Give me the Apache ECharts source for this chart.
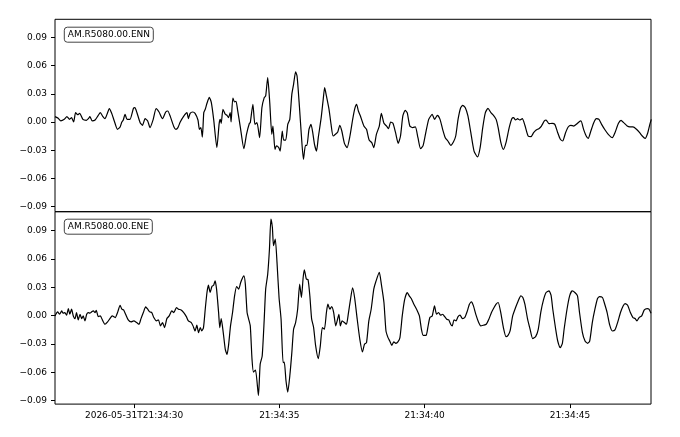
<!DOCTYPE html>
<html><head><meta charset="utf-8">
<script src="https://cdn.jsdelivr.net/npm/echarts@6/dist/echarts.min.js"></script>
<style>html,body{margin:0;padding:0;background:#fff}#c{width:680px;height:437px}</style>
</head><body><div id="c"></div>
<script>
// Trace ids and axis ticks
const TRACE_IDS = ['AM.R5080.00.ENN', 'AM.R5080.00.ENE'];
const DATE_PREFIX = '2026-05-31T';
const TIME_PREFIX = '21:34:';
const X_TICKS = [30, 35, 40, 45];              // seconds after 21:34:00
const Y_TICKS = [-0.09, -0.06, -0.03, 0, 0.03, 0.06, 0.09];
const T_START = 27.28, T_END = 47.79;

// [seconds after 21:34:00, amplitude]
const ENN = [
[27.28,0.0057],[27.39,0.0039],[27.48,0.0011],[27.60,0.0028],[27.69,0.0057],[27.78,0.0028],[27.85,0.0046],[27.92,0.0000],[27.99,0.0099],[28.06,0.0078],[28.13,0.0092],[28.24,0.0028],[28.36,0.0018],[28.43,0.0035],[28.48,0.0057],[28.56,0.0011],[28.66,0.0021],[28.77,0.0071],[28.84,0.0099],[28.93,0.0057],[29.00,0.0035],[29.07,0.0082],[29.15,0.0142],[29.23,0.0092],[29.32,0.0011],[29.43,-0.0078],[29.52,-0.0053],[29.58,0.0000],[29.63,0.0021],[29.69,0.0082],[29.76,0.0028],[29.86,0.0028],[29.98,0.0145],[30.03,0.0152],[30.10,0.0099],[30.21,-0.0007],[30.29,-0.0035],[30.38,0.0035],[30.47,0.0011],[30.55,-0.0060],[30.66,0.0028],[30.76,0.0142],[30.86,0.0106],[30.98,0.0035],[31.09,0.0106],[31.16,0.0117],[31.25,0.0057],[31.37,-0.0050],[31.44,-0.0078],[31.51,-0.0060],[31.59,0.0000],[31.70,0.0057],[31.82,0.0099],[31.87,0.0035],[31.93,0.0092],[32.02,0.0106],[32.10,0.0092],[32.20,0.0021],[32.25,-0.0078],[32.30,-0.0060],[32.35,-0.0160],[32.40,0.0099],[32.45,0.0135],[32.51,0.0199],[32.59,0.0262],[32.66,0.0206],[32.74,0.0028],[32.85,-0.0273],[32.93,-0.0014],[32.97,0.0028],[33.00,-0.0014],[33.06,0.0135],[33.14,0.0082],[33.20,0.0071],[33.25,0.0046],[33.31,0.0099],[33.34,0.0000],[33.40,0.0255],[33.46,0.0213],[33.51,0.0220],[33.56,0.0135],[33.66,-0.0060],[33.78,-0.0284],[33.87,-0.0131],[33.97,-0.0014],
[34.00,-0.0007],[34.09,0.0188],[34.16,-0.0025],[34.23,-0.0007],[34.32,-0.0167],[34.40,0.0152],[34.48,0.0259],[34.53,0.0277],[34.60,0.0472],[34.67,0.0206],[34.74,-0.0131],[34.78,-0.0043],[34.85,-0.0291],[34.90,-0.0255],[34.98,-0.0273],[35.03,-0.0309],[35.10,-0.0096],[35.15,-0.0192],[35.22,-0.0192],[35.29,-0.0025],[35.36,0.0028],[35.43,0.0294],[35.49,0.0401],[35.56,0.0532],[35.61,0.0489],[35.69,0.0170],[35.76,-0.0149],[35.83,-0.0397],[35.90,-0.0248],[35.95,-0.0248],[36.02,-0.0078],[36.09,-0.0025],[36.15,-0.0114],[36.21,-0.0237],[36.28,-0.0309],[36.34,-0.0167],[36.44,0.0046],[36.51,0.0241],[36.56,0.0365],[36.62,0.0277],[36.71,0.0135],[36.78,-0.0025],[36.85,-0.0149],[36.93,-0.0131],[37.01,-0.0106],[37.08,-0.0035],[37.15,-0.0096],[37.24,-0.0227],[37.33,-0.0273],[37.43,-0.0149],[37.52,0.0021],[37.59,0.0135],[37.66,0.0188],[37.72,0.0117],[37.79,0.0064],[37.91,-0.0043],[38.00,-0.0078],[38.09,-0.0192],[38.18,-0.0220],[38.25,-0.0273],[38.34,-0.0131],[38.44,-0.0043],[38.51,0.0092],[38.60,-0.0014],[38.69,-0.0043],[38.76,-0.0071],[38.83,0.0000],[38.91,-0.0014],[39.00,-0.0114],[39.09,-0.0227],[39.17,-0.0149],[39.25,0.0064],[39.33,0.0124],[39.40,0.0099],[39.49,-0.0043],[39.59,-0.0060],[39.68,-0.0053],[39.77,-0.0167],[39.86,-0.0284],[39.95,-0.0248],[40.05,-0.0096],[40.14,0.0028],[40.21,0.0064],[40.26,0.0082],[40.34,0.0028],[40.44,0.0071],[40.53,0.0028],[40.62,-0.0078],[40.71,-0.0167],[40.80,-0.0202],
[40.90,-0.0248],[40.99,-0.0213],[41.07,-0.0149],[41.15,0.0028],[41.24,0.0152],[41.31,0.0177],[41.40,0.0152],[41.49,0.0064],[41.59,-0.0114],[41.70,-0.0309],[41.82,-0.0372],[41.91,-0.0273],[42.00,-0.0060],[42.09,0.0099],[42.18,0.0145],[42.28,0.0099],[42.37,0.0071],[42.46,0.0028],[42.53,-0.0060],[42.62,-0.0213],[42.71,-0.0291],[42.80,-0.0220],[42.91,-0.0060],[43.00,0.0035],[43.06,0.0046],[43.13,0.0021],[43.20,0.0035],[43.27,0.0021],[43.36,0.0035],[43.45,-0.0035],[43.56,-0.0149],[43.66,-0.0156],[43.75,-0.0114],[43.84,-0.0085],[43.93,-0.0071],[44.02,-0.0043],[44.12,0.0011],[44.18,0.0021],[44.28,-0.0018],[44.39,-0.0014],[44.48,-0.0025],[44.58,-0.0114],[44.67,-0.0184],[44.75,-0.0202],[44.85,-0.0114],[44.94,-0.0053],[45.03,-0.0035],[45.13,-0.0043],[45.22,-0.0025],[45.31,0.0000],[45.38,0.0011],[45.47,-0.0078],[45.56,-0.0149],[45.63,-0.0174],[45.72,-0.0096],[45.82,-0.0007],[45.91,0.0035],[46.00,0.0028],[46.09,-0.0025],[46.21,-0.0085],[46.32,-0.0131],[46.46,-0.0167],[46.55,-0.0114],[46.67,-0.0014],[46.76,0.0018],[46.85,-0.0007],[46.97,-0.0043],[47.06,-0.0053],[47.17,-0.0053],[47.29,-0.0078],[47.40,-0.0114],[47.49,-0.0149],[47.59,-0.0174],[47.68,-0.0114],[47.75,-0.0025],[47.80,0.0028]
];

const ENE = [
[27.28,-0.0004],[27.37,0.0039],[27.44,0.0014],[27.51,0.0049],[27.56,0.0025],[27.62,0.0032],[27.68,0.0004],[27.74,0.0074],[27.79,0.0014],[27.85,0.0067],[27.91,-0.0004],[27.97,-0.0032],[28.02,0.0032],[28.08,-0.0046],[28.14,0.0014],[28.20,-0.0032],[28.25,-0.0004],[28.31,-0.0056],[28.37,0.0014],[28.43,0.0032],[28.48,0.0025],[28.54,0.0039],[28.60,0.0049],[28.66,0.0032],[28.70,0.0056],[28.77,-0.0011],[28.84,-0.0004],[28.91,-0.0046],[29.00,-0.0092],[29.09,-0.0067],[29.17,-0.0032],[29.25,-0.0004],[29.35,-0.0021],[29.44,0.0039],[29.52,0.0109],[29.58,0.0067],[29.64,0.0060],[29.71,0.0014],[29.80,-0.0046],[29.90,-0.0067],[29.99,-0.0056],[30.09,-0.0074],[30.17,-0.0092],[30.24,-0.0032],[30.32,0.0032],[30.40,0.0092],[30.47,0.0067],[30.54,0.0039],[30.61,0.0032],[30.68,-0.0021],[30.77,-0.0056],[30.84,-0.0046],[30.91,-0.0109],[30.98,-0.0074],[31.05,-0.0127],[31.13,-0.0032],[31.21,-0.0004],[31.30,0.0049],[31.37,0.0032],[31.46,0.0085],[31.53,0.0067],[31.62,0.0060],[31.71,0.0032],[31.80,-0.0011],[31.87,-0.0056],[31.97,-0.0074],[32.03,-0.0109],[32.10,-0.0163],[32.16,-0.0102],[32.22,-0.0180],[32.28,-0.0127],[32.33,-0.0163],[32.39,-0.0127],[32.45,0.0067],[32.51,0.0244],[32.56,0.0321],[32.62,0.0244],[32.68,0.0307],[32.74,0.0321],[32.79,0.0367],[32.84,0.0279],[32.91,0.0032],[32.95,-0.0127],[33.00,-0.0032],[33.07,-0.0180],[33.14,-0.0357],[33.20,-0.0410],[33.25,-0.0321],[33.32,-0.0109],[33.39,0.0032],[33.46,0.0209],[33.53,0.0307],[33.60,0.0279],[33.67,0.0350],[33.74,0.0403],[33.78,0.0421],[33.83,0.0332],[33.89,0.0032],[33.94,-0.0032],[34.00,-0.0109],
[34.06,-0.0463],[34.11,-0.0597],[34.18,-0.0576],[34.28,-0.0845],[34.34,-0.0516],[34.41,-0.0427],[34.48,-0.0039],[34.53,0.0279],[34.60,0.0438],[34.66,0.0703],[34.71,0.1021],[34.76,0.0933],[34.80,0.0739],[34.86,0.0809],[34.92,0.0562],[34.99,0.0191],[35.06,-0.0039],[35.13,-0.0498],[35.17,-0.0491],[35.23,-0.0692],[35.29,-0.0809],[35.36,-0.0639],[35.43,-0.0392],[35.49,-0.0145],[35.56,-0.0074],[35.63,0.0067],[35.70,0.0332],[35.76,0.0191],[35.82,0.0403],[35.86,0.0484],[35.93,0.0385],[35.99,0.0378],[36.05,0.0209],[36.11,-0.0032],[36.18,-0.0127],[36.25,-0.0321],[36.34,-0.0456],[36.41,-0.0321],[36.48,-0.0127],[36.55,-0.0145],[36.62,0.0032],[36.67,0.0120],[36.74,0.0067],[36.80,0.0095],[36.87,0.0032],[36.94,-0.0109],[36.99,-0.0056],[37.05,0.0014],[37.10,-0.0109],[37.16,-0.0056],[37.24,-0.0074],[37.31,-0.0092],[37.38,0.0032],[37.45,0.0173],[37.52,0.0294],[37.59,0.0191],[37.68,-0.0039],[37.77,-0.0251],[37.86,-0.0385],[37.93,-0.0304],[38.00,-0.0286],[38.08,-0.0056],[38.16,0.0067],[38.25,0.0279],[38.32,0.0357],[38.44,0.0456],[38.51,0.0332],[38.60,0.0138],[38.67,-0.0163],[38.74,-0.0233],[38.80,-0.0269],[38.87,-0.0315],[38.94,-0.0279],[39.01,-0.0293],[39.08,-0.0279],[39.15,-0.0233],[39.23,-0.0004],[39.31,0.0166],[39.40,0.0244],[39.47,0.0209],[39.54,0.0180],[39.63,0.0120],[39.75,0.0049],[39.82,-0.0004],[39.89,-0.0145],[39.95,-0.0209],[40.05,-0.0209],[40.11,-0.0127],[40.18,-0.0021],[40.26,-0.0004],[40.34,0.0102],[40.41,0.0014],[40.48,0.0032],[40.55,0.0004],[40.62,0.0014],[40.69,-0.0011],[40.76,-0.0039],[40.83,-0.0046],
[40.90,-0.0095],[40.95,-0.0109],[41.01,-0.0046],[41.08,-0.0056],[41.15,-0.0011],[41.22,0.0004],[41.30,-0.0032],[41.38,-0.0021],[41.47,0.0049],[41.54,0.0120],[41.61,0.0145],[41.68,0.0102],[41.77,0.0004],[41.86,-0.0074],[41.93,-0.0109],[42.02,-0.0102],[42.12,-0.0092],[42.21,-0.0039],[42.30,0.0032],[42.39,0.0085],[42.46,0.0120],[42.53,0.0138],[42.62,0.0032],[42.71,-0.0127],[42.80,-0.0223],[42.87,-0.0209],[42.94,-0.0163],[43.03,-0.0004],[43.13,0.0085],[43.22,0.0155],[43.31,0.0209],[43.38,0.0191],[43.45,0.0120],[43.54,-0.0032],[43.63,-0.0145],[43.72,-0.0244],[43.82,-0.0223],[43.91,-0.0145],[44.00,0.0039],[44.09,0.0166],[44.18,0.0244],[44.28,0.0261],[44.35,0.0215],[44.41,0.0067],[44.51,-0.0145],[44.58,-0.0269],[44.67,-0.0339],[44.74,-0.0293],[44.80,-0.0145],[44.90,0.0067],[44.99,0.0209],[45.08,0.0261],[45.17,0.0244],[45.26,0.0209],[45.33,0.0032],[45.43,-0.0180],[45.52,-0.0269],[45.61,-0.0293],[45.68,-0.0269],[45.77,-0.0074],[45.86,0.0067],[45.95,0.0180],[46.02,0.0201],[46.12,0.0191],[46.18,0.0138],[46.28,0.0032],[46.37,-0.0102],[46.46,-0.0163],[46.55,-0.0152],[46.64,-0.0074],[46.74,0.0032],[46.83,0.0102],[46.90,0.0127],[46.99,0.0106],[47.08,0.0032],[47.17,-0.0021],[47.24,-0.0032],[47.31,-0.0056],[47.38,-0.0021],[47.47,-0.0004],[47.56,0.0060],[47.66,0.0074],[47.72,0.0067],[47.79,0.0025]
];

const Y_RANGES = [[-0.0954, 0.1092], [-0.0936, 0.1098]];

const FONT = 'DejaVu Sans';
function timeLabel(v) {
  const s = String(Math.round(v)).padStart(2, '0');
  const t = TIME_PREFIX + s;
  return Math.abs(v - X_TICKS[0]) < 1e-6 ? DATE_PREFIX + t : t;
}
function yLabel(v) {
  if (Math.abs(v) < 1e-9) return '0.00';
  return (v < 0 ? '\u2212' : '') + Math.abs(v).toFixed(2);
}

const chart = echarts.init(document.getElementById('c'), null, { renderer: 'canvas' });
const grids = [
  { left: 55, right: 29, top: 19.3, height: 192.4 },
  { left: 55, right: 29, top: 211.7, height: 192.4 }
].map(g => Object.assign(g, { show: true, borderColor: '#000', borderWidth: 1, backgroundColor: 'transparent' }));

const xAxes = [0, 1].map(i => ({
  type: 'value', gridIndex: i, min: T_START, max: T_END, position: 'bottom',
  axisLine: { show: false, onZero: false }, splitLine: { show: false },
  axisTick: { show: i === 1, inside: false, length: 4, lineStyle: { color: '#000', width: 1 }, customValues: X_TICKS },
  axisLabel: { show: i === 1, customValues: X_TICKS, formatter: timeLabel, fontSize: 9, color: '#000', fontFamily: FONT, margin: 7 }
}));
const yAxes = [0, 1].map(i => ({
  type: 'value', gridIndex: i, min: Y_RANGES[i][0], max: Y_RANGES[i][1], position: 'left',
  axisLine: { show: false, onZero: false }, splitLine: { show: false },
  axisTick: { show: true, inside: false, length: 4, lineStyle: { color: '#000', width: 1 }, customValues: Y_TICKS },
  axisLabel: { customValues: Y_TICKS, formatter: yLabel, fontSize: 9, color: '#000', fontFamily: FONT, margin: 8 }
}));
const series = [ENN, ENE].map((d, i) => ({
  type: 'line', xAxisIndex: i, yAxisIndex: i, data: d,
  showSymbol: false, symbol: 'none', smooth: 0.2, clip: true,
  lineStyle: { color: '#000', width: 1.2 }, silent: true
}));
const titles = TRACE_IDS.map((id, i) => ({
  text: id, left: 64.3, top: i === 0 ? 26.7 : 218.7,
  padding: [3, 3.5], borderColor: '#444', borderWidth: 1, borderRadius: 3,
  backgroundColor: 'rgba(255,255,255,0.85)',
  textStyle: { fontSize: 9, fontWeight: 'normal', color: '#000', fontFamily: FONT, lineHeight: 10 }
}));

chart.setOption({
  animation: false,
  backgroundColor: '#fff',
  title: titles,
  grid: grids,
  xAxis: xAxes,
  yAxis: yAxes,
  series: series
});
</script></body></html>
